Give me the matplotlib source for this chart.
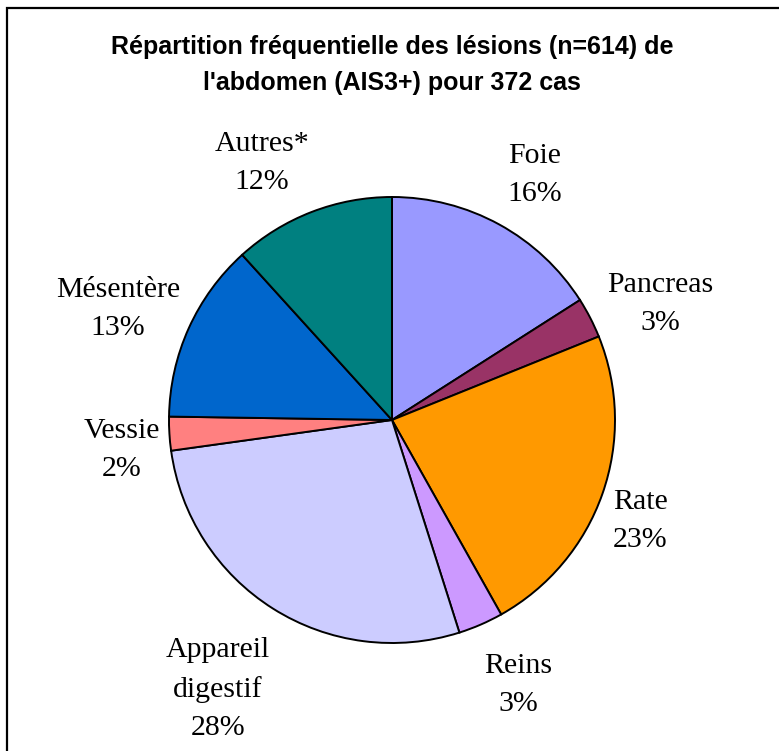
import matplotlib
matplotlib.use("Agg")
import matplotlib.pyplot as plt
from matplotlib.patches import Rectangle

categories = ["Foie", "Pancreas", "Rate", "Reins", "Appareil\ndigestif", "Vessie", "Mésentère", "Autres*"]
counts = [98, 18, 141, 20, 170, 15, 80, 72]
colors = ["#9999FF", "#993366", "#FF9900", "#CC99FF", "#CCCCFF", "#FF8080", "#0066CC", "#008080"]
title = "Répartition fréquentielle des lésions (n=614) de\nl'abdomen (AIS3+) pour 372 cas"

W, H = 779, 751
fig = plt.figure(figsize=(W / 100, H / 100), dpi=100)
fig.patch.set_facecolor("white")

cx, cy, r = 392, 420, 223
ax = fig.add_axes([(cx - r) / W, (H - cy - r) / H, 2 * r / W, 2 * r / H])

total = sum(counts)
labels = [f"{c}\n{round(100 * v / total)}%" for c, v in zip(categories, counts)]

wedges, texts = ax.pie(counts, colors=colors, startangle=90, counterclock=False,
                       radius=1, labels=labels,
                       wedgeprops=dict(edgecolor="black", linewidth=1.4),
                       textprops=dict(family="Liberation Serif", fontsize=21.5))
ax.set_xlim(-1, 1)
ax.set_ylim(-1, 1)
ax.set_aspect("auto")
ax.axis("off")

label_px = [(535, 175), (660, 304), (640, 521), (518, 685), (218, 689),
            (122, 450), (118, 309), (262, 163)]
for t, (px, py) in zip(texts, label_px):
    t.set_position(((px - cx) / r, (cy - py) / r))
    t.set_ha("center")
    t.set_va("center")
    t.set_multialignment("center")
    t.set_linespacing(1.62)
    t.set_clip_on(False)

fig.text(392 / W, 1 - 65 / H, title, ha="center", va="center",
         family="Liberation Sans", fontweight="bold", fontsize=18, linespacing=1.6)

fig.patches.append(Rectangle((7 / W, -0.1), 1.2, (H - 8) / H + 0.1,
                             transform=fig.transFigure, fill=False,
                             edgecolor="black", linewidth=1.6))

fig.savefig("out.png", dpi=100)
